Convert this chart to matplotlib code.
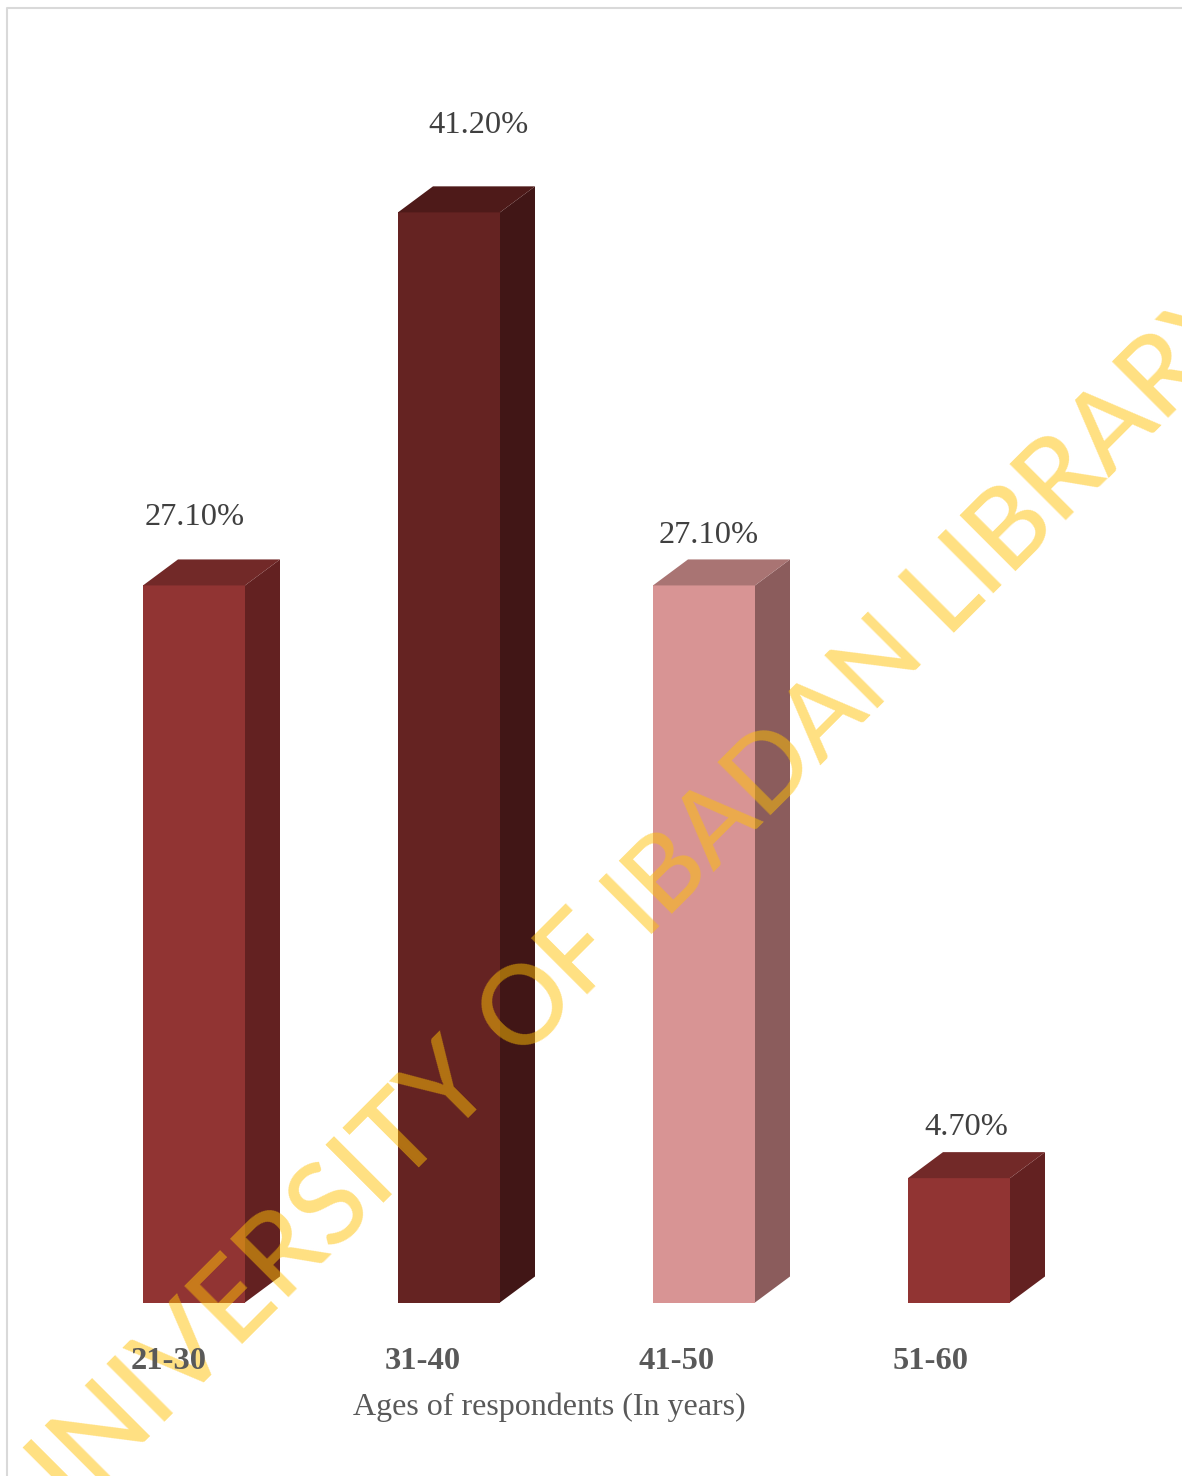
import numpy as np
import matplotlib
matplotlib.use('Agg')
import matplotlib.pyplot as plt
from matplotlib.lines import Line2D
from matplotlib.patches import Polygon

# Dados do gráfico
age_groups = ['21-30', '31-40', '41-50', '51-60']
percent = [27.1, 41.2, 27.1, 4.7]
percent_labels = ['27.10%', '41.20%', '27.10%', '4.70%']

# Cores de cada barra: frente, lateral e topo
front_colors = ['#913433', '#652322', '#D89494', '#913433']
side_colors = ['#632121', '#411616', '#8B5C5C', '#632121']
top_colors = ['#722928', '#4E1A19', '#A97473', '#722928']

# Deslocamento manual dos rótulos em relação ao topo da barra (px)
label_shift = [(1, 60), (29, 79), (5, 42), (7, 43)]

W, H = 1182, 1476
BASE_Y = 1302.5
PX_PER_UNIT = 26.46
STEP = 255
BAR_W = 102 / STEP
DEPTH_X = 35 / STEP
DEPTH_Y = 26 / PX_PER_UNIT

plt.rcParams['font.family'] = ['Liberation Serif', 'DejaVu Serif']

fig = plt.figure(figsize=(W / 100, H / 100), dpi=100)
ax = fig.add_axes([0, 1 - BASE_Y / H, 1, BASE_Y / H])
ax.set_xlim(-194 / STEP, (W - 194) / STEP)
ax.set_ylim(0, BASE_Y / PX_PER_UNIT)

x = np.arange(len(percent))
ax.bar(x, percent, width=BAR_W, color=front_colors, edgecolor='none', zorder=1)

# Faces lateral e superior de cada coluna 3D
for xi, v, c_side, c_top in zip(x, percent, side_colors, top_colors):
    x0, x1 = xi - BAR_W / 2, xi + BAR_W / 2
    ax.add_patch(Polygon([(x1, 0), (x1 + DEPTH_X, DEPTH_Y), (x1 + DEPTH_X, v + DEPTH_Y), (x1, v)],
                         facecolor=c_side, edgecolor='none', zorder=1))
    ax.add_patch(Polygon([(x0, v), (x0 + DEPTH_X, v + DEPTH_Y), (x1 + DEPTH_X, v + DEPTH_Y), (x1, v)],
                         facecolor=c_top, edgecolor='none', zorder=1))

for xi, v, txt, (dx, dy) in zip(x, percent, percent_labels, label_shift):
    ax.annotate(txt, (xi, v), xytext=(dx * 0.72, dy * 0.72), textcoords='offset points',
                ha='center', va='baseline', fontsize=23.4, color='#404040', zorder=3)

for s in ax.spines.values():
    s.set_visible(False)
ax.set_yticks([])
ax.set_xticks((x * 254 - 25) / STEP)
ax.set_xticklabels(age_groups, fontsize=23.4, fontweight='bold', color='#595959')
ax.tick_params(axis='x', length=0, pad=32)
ax.set_axisbelow(False)
ax.set_xlabel('Ages of respondents (In years)', fontsize=23, color='#595959')
ax.xaxis.set_label_coords(549 / W, -(1393 - BASE_Y) / BASE_Y)

# Marca d'água diagonal, uma palavra de cada vez para acertar os espaços
# (palavra, início em x sobre a linha de base x + y = 1577, tamanho)
for word, wx, size in [('UNIVERSITY', 34, 82), ('OF', 517, 79.5),
                       ('IBADAN', 643, 75.5), ('LIBRARY', 944, 79.5)]:
    ax.text(wx / W, 1 - (1577 - wx) / H, word, transform=fig.transFigure,
            rotation=45, rotation_mode='anchor', ha='left', va='baseline',
            family='Lato', fontweight='medium', fontsize=size, color='#FFC105', alpha=0.5,
            clip_on=False, zorder=2)

# Moldura cinza à esquerda e no topo
fig.add_artist(Line2D([7 / W, 7 / W, 1], [0, 1 - 7.5 / H, 1 - 7.5 / H], color='#D9D9D9', lw=1.5))

fig.savefig('out.png', dpi=100)
